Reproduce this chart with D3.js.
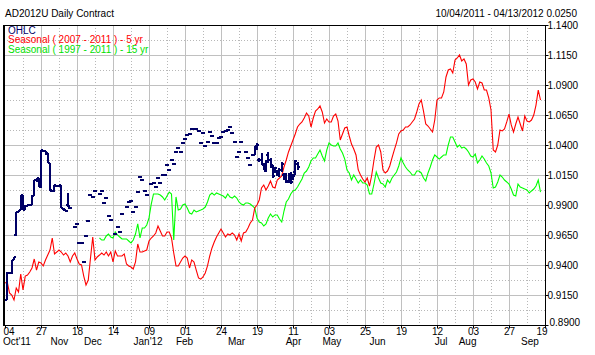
<!DOCTYPE html>
<html>
<head>
<meta charset="utf-8">
<script src="https://cdn.jsdelivr.net/npm/d3@7"></script>
<style>
body { margin: 0; background: #fff; }
text { font-family: "Liberation Sans", Arial, sans-serif; }
</style>
</head>
<body>
<div id="chart-section"></div>
<script>
// Data ----------------------------------------------------------------
// x axis is a trading-day index: 0 = Oct 4 2011, 16 bars per grid step
var dayTicks = ["04", "27", "18", "14", "09", "01", "24", "19", "11", "03", "25", "19", "12", "03", "27", "19"];
var monthLabels = ["Oct'11", "Nov", "Dec", "Jan'12", "Feb", "Mar", "Apr", "May", "Jun", "Jul", "Aug", "Sep"];
var monthAt = [0, 24.2, 39.1, 63.6, 79.8, 102.9, 128.2, 145.3, 165.6, 193.8, 205.6, 233.3];
var priceTicks = [0.8900, 0.9150, 0.9400, 0.9650, 0.9900, 1.0150, 1.0400, 1.0650, 1.0900, 1.1150, 1.1400];

// Seasonal ( 2007 - 2011 ) - 5 yr, from day 0
var season5 = [
  .9250, .9258, .9167, .9150, .9108, .9208, .9175, .9325, .9192, .9308,
  .9317, .9342, .9375, .9450, .9358, .9425, .9417, .9392, .9442, .9483,
  .9525, .9625, .9492, .9508, .9525, .9508, .9483, .9500, .9475, .9425,
  .9475, .9500, .9450, .9408, .9400, .9308, .9233, .9275, .9458, .9633,
  .9442, .9467, .9483, .9500, .9483, .9508, .9475, .9508, .9425, .9517,
  .9475, .9475, .9475, .9492, .9408, .9392, .9383, .9367, .9425, .9575,
  .9508, .9508, .9517, .9525, .9600, .9625, .9642, .9667, .9725, .9683,
  .9642, .9642, .9675, .9675, .9625, .9500, .9392, .9392, .9425, .9458,
  .9475, .9458, .9375, .9442, .9425, .9358, .9292, .9283, .9300, .9333,
  .9392, .9475, .9542, .9592, .9633, .9667, .9700, .9667, .9633, .9658,
  .9650, .9667, .9650, .9608, .9658, .9600, .9667, .9675, .9708, .9750,
  .9775, .9875, .9900, .9942, 1.0042, 1.0067, 1.0025, 1.0058, 1.0100, 1.0050,
  1.0042, 1.0108, 1.0125, 1.0142, 1.0217, 1.0275, 1.0342, 1.0392, 1.0442, 1.0492,
  1.0550, 1.0575, 1.0592, 1.0625, 1.0667, 1.0642, 1.0550, 1.0625, 1.0683, 1.0700,
  1.0725, 1.0675, 1.0583, 1.0617, 1.0592, 1.0592, 1.0642, 1.0658, 1.0600, 1.0442,
  1.0492, 1.0542, 1.0550, 1.0475, 1.0408, 1.0367, 1.0317, 1.0192, 1.0150, 1.0117,
  1.0092, 1.0125, 1.0058, 1.0150, 1.0275, 1.0383, 1.0400, 1.0342, 1.0192, 1.0167,
  1.0183, 1.0225, 1.0292, 1.0358, 1.0417, 1.0492, 1.0517, 1.0525, 1.0550, 1.0550,
  1.0567, 1.0592, 1.0617, 1.0675, 1.0742, 1.0775, 1.0683, 1.0575, 1.0558, 1.0533,
  1.0508, 1.0608, 1.0775, 1.0792, 1.0792, 1.0842, 1.0967, 1.1025, 1.1033, 1.1000,
  1.1108, 1.1125, 1.1150, 1.1100, 1.1117, 1.1075, 1.0900, 1.0942, 1.0950, 1.0925,
  1.0867, 1.0925, 1.0917, 1.0858, 1.0858, 1.0792, 1.0692, 1.0358, 1.0342, 1.0400,
  1.0525, 1.0517, 1.0533, 1.0592, 1.0658, 1.0567, 1.0508, 1.0575, 1.0633, 1.0575,
  1.0517, 1.0642, 1.0600, 1.0592, 1.0608, 1.0650, 1.0733, 1.0858, 1.0775
];

// Seasonal ( 1997 - 2011 ) - 15 yr, from day 42
var season15Start = 42;
var season15 = [
  .9625, .9608, .9608, .9642, .9658, .9633, .9625, .9675, .9650, .9633,
  .9617, .9617, .9617, .9600, .9583, .9608, .9658, .9742, .9625, .9708,
  .9708, .9733, .9792, .9908, .9992, .9992, .9992, .9983, .9967, .9942,
  .9975, 1.0008, .9992, .9608, .9967, .9858, .9867, .9900, .9908, .9875,
  .9833, .9825, .9858, .9842, .9850, .9858, .9867, .9883, .9925, .9983,
  1.0000, .9983, 1.0000, .9992, .9983, .9975, .9958, .9992, .9967, .9958,
  .9975, .9958, .9925, .9908, .9900, .9917, .9917, .9908, .9892, .9875,
  .9792, .9758, .9750, .9725, .9742, .9792, .9825, .9800, .9817, .9817,
  .9783, .9758, .9850, .9925, .9950, .9992, 1.0017, 1.0025, 1.0050, 1.0083,
  1.0117, 1.0167, 1.0183, 1.0217, 1.0267, 1.0292, 1.0292, 1.0325, 1.0358, 1.0308,
  1.0267, 1.0358, 1.0417, 1.0400, 1.0392, 1.0392, 1.0417, 1.0367, 1.0333, 1.0283,
  1.0192, 1.0167, 1.0108, 1.0150, 1.0117, 1.0083, 1.0108, 1.0083, 1.0083, 1.0067,
  .9992, .9992, 1.0075, 1.0175, 1.0125, 1.0083, 1.0075, 1.0050, 1.0108, 1.0083,
  1.0125, 1.0150, 1.0175, 1.0225, 1.0292, 1.0250, 1.0217, 1.0192, 1.0175, 1.0150,
  1.0150, 1.0183, 1.0183, 1.0167, 1.0125, 1.0100, 1.0167, 1.0217, 1.0275, 1.0317,
  1.0300, 1.0283, 1.0300, 1.0317, 1.0317, 1.0400, 1.0467, 1.0467, 1.0425, 1.0383,
  1.0400, 1.0375, 1.0383, 1.0367, 1.0342, 1.0308, 1.0300, 1.0325, 1.0250, 1.0275,
  1.0308, 1.0283, 1.0250, 1.0225, 1.0167, 1.0042, 1.0050, 1.0092, 1.0150, 1.0133,
  1.0108, 1.0092, 1.0075, 1.0033, .9983, .9975, 1.0075, 1.0050, 1.0042, 1.0033,
  1.0025, 1.0000, 1.0017, 1.0033, 1.0058, 1.0108, 1.0008
];

// OHLC: [day, open, high, low, close]
var ohlcBars = [
  [1, .9108, .9342, .9108, .9333], [2, .9333, .9342, .9325, .9333], [3, .9333, .9442, .9325, .9442],
  [4, .9442, .9467, .9442, .9467], [5, .9650, .9842, .9642, .9842], [6, .9842, .9858, .9842, .9858],
  [7, .9858, .9983, .9858, .9983], [8, .9983, .9983, .9858, .9858], [9, .9858, .9900, .9858, .9892],
  [10, .9892, .9908, .9892, .9900], [11, .9900, .9908, .9892, .9900], [12, .9900, .9983, .9900, .9975],
  [13, .9975, 1.0108, .9975, 1.0108], [14, 1.0108, 1.0125, 1.0092, 1.0125], [15, 1.0125, 1.0125, 1.0050, 1.0050],
  [16, 1.0050, 1.0358, 1.0042, 1.0358], [17, 1.0358, 1.0358, 1.0342, 1.0350], [18, 1.0350, 1.0350, 1.0317, 1.0333],
  [19, 1.0333, 1.0333, 1.0250, 1.0250], [20, 1.0250, 1.0250, 1.0017, 1.0025], [21, 1.0017, 1.0025, 1.0008, 1.0017],
  [22, 1.0017, 1.0067, 1.0008, 1.0067], [23, 1.0058, 1.0067, 1.0050, 1.0058], [24, 1.0058, 1.0067, 1.0050, 1.0067],
  [25, 1.0067, 1.0067, .9875, .9875], [26, .9867, .9875, .9850, .9858], [27, .9858, .9858, .9842, .9850],
  [28, .9900, 1.0000, .9883, .9892],
  [111, 1.0317, 1.0392, 1.0317, 1.0383], [112, 1.0392, 1.0417, 1.0358, 1.0400], [113, 1.0275, 1.0292, 1.0258, 1.0275],
  [114, 1.0275, 1.0333, 1.0233, 1.0233], [115, 1.0242, 1.0250, 1.0192, 1.0192], [116, 1.0183, 1.0275, 1.0175, 1.0258],
  [117, 1.0317, 1.0342, 1.0250, 1.0275], [118, 1.0275, 1.0292, 1.0208, 1.0233], [119, 1.0225, 1.0233, 1.0125, 1.0142],
  [120, 1.0175, 1.0217, 1.0167, 1.0208], [121, 1.0175, 1.0192, 1.0142, 1.0150], [122, 1.0150, 1.0208, 1.0133, 1.0192],
  [123, 1.0192, 1.0258, 1.0175, 1.0242], [124, 1.0150, 1.0167, 1.0108, 1.0125], [125, 1.0133, 1.0167, 1.0083, 1.0092],
  [126, 1.0100, 1.0167, 1.0083, 1.0150], [127, 1.0142, 1.0175, 1.0075, 1.0092], [128, 1.0125, 1.0158, 1.0108, 1.0142],
  [129, 1.0175, 1.0275, 1.0150, 1.0267], [130, 1.0242, 1.0258, 1.0192, 1.0217]
];

// days with a settlement only (open = high = low = close): [day, price]
var quietBars = [
  [29, .9875], [31, .9717], [32, .9742], [33, .9583], [34, .9583], [35, .9425], [36, .9642], [37, .9767],
  [38, .9983], [39, .9967], [40, 1.0017], [42, .9992], [43, 1.0017], [44, .9917], [45, .9958], [46, .9808],
  [47, .9775], [49, .9658], [50, .9717], [51, .9675], [52, .9825], [54, .9883], [55, .9925], [56, .9933],
  [57, .9842], [58, .9883], [59, 1.0008], [60, 1.0133], [61, 1.0108], [62, 1.0017], [63, .9983], [65, 1.0075],
  [66, 1.0083], [67, 1.0050], [68, 1.0125], [69, 1.0083], [70, 1.0150], [71, 1.0150], [72, 1.0233], [73, 1.0192],
  [74, 1.0275], [75, 1.0242], [76, 1.0342], [77, 1.0375], [78, 1.0342], [79, 1.0417], [80, 1.0450], [81, 1.0483],
  [82, 1.0492], [83, 1.0533], [84, 1.0533], [85, 1.0533], [86, 1.0517], [87, 1.0417], [88, 1.0500], [89, 1.0392],
  [90, 1.0425], [91, 1.0508], [92, 1.0475], [93, 1.0417], [94, 1.0417], [95, 1.0458], [96, 1.0467], [97, 1.0508],
  [98, 1.0517], [99, 1.0525], [100, 1.0550], [101, 1.0500], [102, 1.0425], [103, 1.0300], [104, 1.0342], [105, 1.0425],
  [107, 1.0342], [108, 1.0292], [109, 1.0233], [110, 1.0317]
];
//-----------------------------------------------------------------------

var svgScreen = { width: 595, height: 355 };
var frame = { left: 4, right: 545, top: 25, bottom: 325 };

var xScale = d3.scaleLinear().domain([0, 240]).range([5, 545]);
var yScale = d3.scaleLinear().domain([0.89, 1.14]).range([325, 25]);
var fmt = d3.format(".4f");

var svg = d3.select("#chart-section")
  .append("svg")
  .attr("width", svgScreen.width)
  .attr("height", svgScreen.height);

// grid
var grid = svg.append("g").attr("class", "grid").attr("shape-rendering", "crispEdges");
var majorDays = d3.range(16, 240, 16);
var minorDays = d3.range(8, 240, 16);

grid.selectAll(".vmaj").data(majorDays).enter().append("line")
  .attr("x1", d => xScale(d)).attr("x2", d => xScale(d))
  .attr("y1", frame.top).attr("y2", frame.bottom)
  .attr("stroke", "#c0c0c0");
grid.selectAll(".vmin").data(minorDays).enter().append("line")
  .attr("x1", d => xScale(d)).attr("x2", d => xScale(d))
  .attr("y1", frame.top).attr("y2", frame.bottom)
  .attr("stroke", "#b8b8b8").attr("stroke-dasharray", "1,2");

grid.selectAll(".hmaj").data(priceTicks.slice(1, -1)).enter().append("line")
  .attr("x1", frame.left).attr("x2", frame.right)
  .attr("y1", d => yScale(d)).attr("y2", d => yScale(d))
  .attr("stroke", "#c0c0c0");
grid.selectAll(".hmin").data(priceTicks.slice(0, -1)).enter().append("line")
  .attr("x1", frame.left).attr("x2", frame.right)
  .attr("y1", d => yScale(d + 0.0125)).attr("y2", d => yScale(d + 0.0125))
  .attr("stroke", "#b8b8b8").attr("stroke-dasharray", "1,2");

// seasonal lines
var line = d3.line()
  .x(d => xScale(d.day))
  .y(d => yScale(d.v));

svg.append("path")
  .datum(season15.map((v, i) => ({ day: i + season15Start, v: v })))
  .attr("fill", "none")
  .attr("stroke", "#00ff00")
  .attr("stroke-width", 1.1)
  .attr("d", line);

svg.append("path")
  .datum(season5.map((v, i) => ({ day: i, v: v })))
  .attr("fill", "none")
  .attr("stroke", "#ff0000")
  .attr("stroke-width", 1.1)
  .attr("d", line);

// OHLC bars
var bars = ohlcBars.concat(quietBars.map(q => [q[0], q[1], q[1], q[1], q[1]]));
var barG = svg.append("g").attr("class", "ohlc")
  .attr("stroke", "#000066").attr("stroke-width", 2).attr("shape-rendering", "crispEdges");

bars.forEach(function(b) {
  var x = Math.round(xScale(b[0]));
  var yh = Math.round(yScale(b[2])), yl = Math.round(yScale(b[3]));
  if (yl - yh > 0) {
    barG.append("line")
      .attr("x1", x).attr("x2", x)
      .attr("y1", yh).attr("y2", yl);
  }
  barG.append("line")
    .attr("x1", x - 2).attr("x2", x)
    .attr("y1", Math.round(yScale(b[1]))).attr("y2", Math.round(yScale(b[1])));
  barG.append("line")
    .attr("x1", x).attr("x2", x + 2)
    .attr("y1", Math.round(yScale(b[4]))).attr("y2", Math.round(yScale(b[4])));
});

// frame
svg.append("rect")
  .attr("x", frame.left + 0.5).attr("y", frame.top + 0.5)
  .attr("width", frame.right - frame.left).attr("height", frame.bottom - frame.top)
  .attr("fill", "none").attr("stroke", "black");
svg.append("line")
  .attr("x1", frame.left).attr("x2", frame.left)
  .attr("y1", frame.top).attr("y2", frame.bottom + 1)
  .attr("stroke", "black").attr("stroke-width", 2);

// axes
var yAxis = d3.axisRight(yScale).tickValues(priceTicks).tickFormat(fmt).tickSize(3).tickSizeOuter(0).tickPadding(-1);
var yG = svg.append("g")
  .attr("transform", "translate(" + (frame.right + 0.5) + ",0)")
  .call(yAxis);
yG.select(".domain").remove();
yG.selectAll("text").attr("font-size", 10).attr("fill", "#000").attr("font-family", null);
yG.selectAll("line").attr("stroke", "#000");
// bottom label sits just above the corner, as in the original
yG.selectAll(".tick").filter(d => d === priceTicks[0]).select("text").attr("x", 4).attr("dy", "0.05em");

var xAxis = d3.axisBottom(xScale).tickValues(d3.range(0, 241, 16))
  .tickFormat((d, i) => dayTicks[i]).tickSize(3).tickSizeOuter(0);
var xG = svg.append("g")
  .attr("transform", "translate(0," + (frame.bottom + 0.5) + ")")
  .call(xAxis);
xG.select(".domain").remove();
xG.selectAll("text").attr("y", 2).attr("font-size", 10).attr("fill", "#000").attr("font-family", null);
xG.selectAll("line").attr("stroke", "#000");
xG.select(".tick text").attr("text-anchor", "start").attr("x", -2);
xG.selectAll(".tick").filter(d => d === 240).select("text").attr("text-anchor", "end").attr("x", 2);

svg.append("g").selectAll("text").data(monthLabels).enter().append("text")
  .attr("x", (d, i) => i === 0 ? 3 : xScale(monthAt[i]))
  .attr("y", 345)
  .attr("text-anchor", (d, i) => i === 0 ? "start" : "middle")
  .attr("font-size", 10)
  .text(d => d);

// titles + legend
svg.append("text").attr("x", 5).attr("y", 16.5).attr("font-size", 10).text("AD2012U  Daily  Contract");
svg.append("text").attr("x", 577).attr("y", 16.5).attr("font-size", 10).attr("text-anchor", "end")
  .text("10/04/2011 - 04/13/2012 0.0250");

var legend = [
  { label: "OHLC", color: "#000066" },
  { label: "Seasonal ( 2007 - 2011 ) - 5 yr", color: "#ff0000" },
  { label: "Seasonal ( 1997 - 2011 ) - 15 yr", color: "#00e000" }
];
svg.append("g").selectAll("text").data(legend).enter().append("text")
  .attr("x", 8).attr("y", (d, i) => 33.5 + i * 9.5)
  .attr("font-size", 10)
  .attr("fill", d => d.color)
  .text(d => d.label);
</script>
</body>
</html>
